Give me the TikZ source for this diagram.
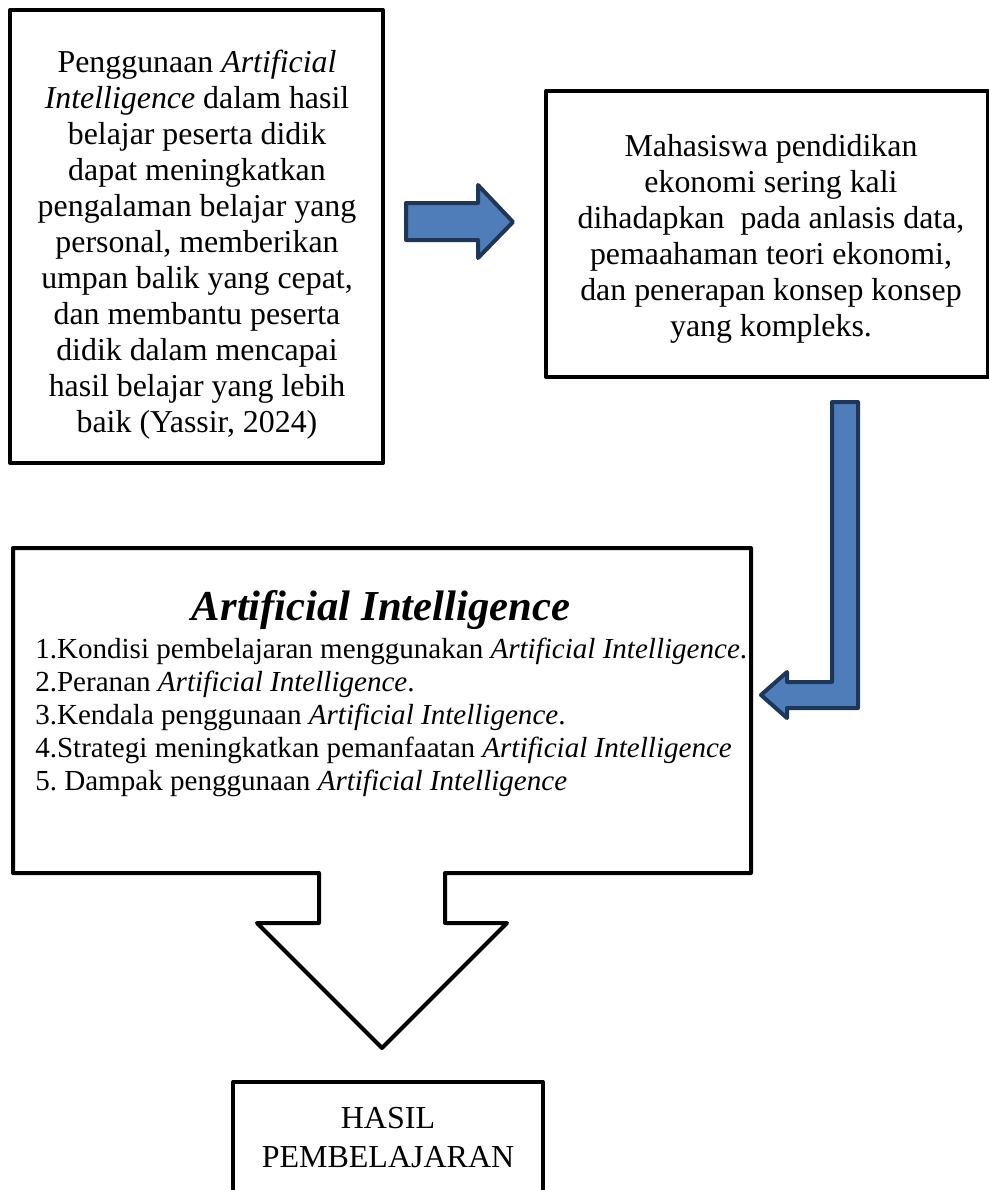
\documentclass[tikz,border=0pt]{standalone}
\usepackage{fontspec}
\setmainfont{Liberation Serif}
\usetikzlibrary{positioning}
\definecolor{arrowfill}{RGB}{79,125,185}
\definecolor{arrowline}{RGB}{30,54,88}

\begin{document}
\begin{tikzpicture}[x=0.75pt,y=0.75pt,yscale=-1,xscale=1,
    box/.style={draw, line width=3pt, line join=round, inner sep=0pt},
    bigtext/.style={font=\fontsize{23.9}{27}\selectfont, align=center, inner sep=0pt},
    listtext/.style={font=\fontsize{21.8}{24.75}\selectfont, anchor=base west, inner sep=0pt},
    blockarrow/.style={draw=arrowline, fill=arrowfill, line width=3pt, line join=round}]
    \useasboundingbox (0,0) rectangle (989,1190);

    % top boxes
    \node (usage) [box, minimum width=279.75pt, minimum height=339.75pt] at (196.5,236.5) {};
    \node (usagetext) [bigtext] at (197,245) {Penggunaan \textit{Artificial}\\ \textit{Intelligence} dalam hasil\\ belajar peserta didik\\ dapat meningkatkan\\ pengalaman belajar yang\\ personal, memberikan\\ umpan balik yang cepat,\\ dan membantu peserta\\ didik dalam mencapai\\ hasil belajar yang lebih\\ baik (Yassir, 2024)};
    \node (mhs) [box, minimum width=331.5pt, minimum height=214.5pt] at (767,234) {};
    \node (mhstext) [bigtext] at (771,239) {Mahasiswa pendidikan\\ ekonomi sering kali\\ dihadapkan\ \ pada anlasis data,\\ pemaahaman teori ekonomi,\\ dan penerapan konsep konsep\\ yang kompleks.};

    % block arrows
    \draw [blockarrow] (406,203) -- (478,203) -- (478,185) -- (513,222) -- (478,258) -- (478,240) -- (406,240) -- cycle;
    \draw [blockarrow] (832,402) -- (858,402) -- (858,708) -- (787,708) -- (787,718) -- (761,695) -- (787,672) -- (787,682) -- (832,682) -- cycle;

    % middle box with down arrow
    \draw [line width=3pt, line join=round] (13,548) -- (751,548) -- (751,873) -- (445,873) -- (445,923) -- (507,923) -- (382,1048) -- (257,923) -- (319,923) -- (319,873) -- (13,873) -- cycle;
    \node (aititle) [font=\fontsize{32}{38}\selectfont\bfseries\itshape, anchor=base, inner sep=0pt] at (381,620) {Artificial Intelligence};
    \node (item1) [listtext] at (35,658) {1.Kondisi pembelajaran menggunakan \textit{Artificial Intelligence}.};
    \node (item2) [listtext] at (35,691) {2.Peranan \textit{Artificial Intelligence}.};
    \node (item3) [listtext] at (35,724) {3.Kendala penggunaan \textit{Artificial Intelligence}.};
    \node (item4) [listtext] at (35,757) {4.Strategi meningkatkan pemanfaatan \textit{Artificial Intelligence}};
    \node (item5) [listtext] at (35,790) {5.\ Dampak penggunaan \textit{Artificial Intelligence}};

    % result box
    \node (hasilbox) [box, anchor=north, minimum width=232.5pt, minimum height=112.5pt] at (388,1080) {};
    \node (hasil) [font=\fontsize{24}{29.25}\selectfont, align=center, inner sep=0pt] at (388,1138) {HASIL\\PEMBELAJARAN};
\end{tikzpicture}
\end{document}
